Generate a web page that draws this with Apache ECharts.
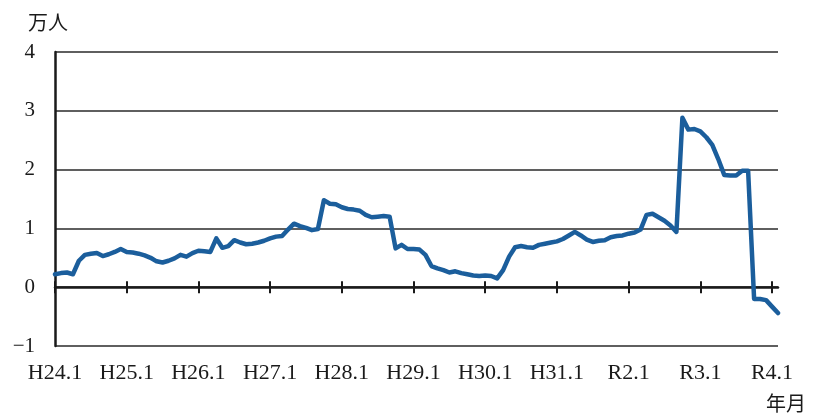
<!DOCTYPE html>
<html>
<head>
<meta charset="utf-8">
<script src="https://cdn.jsdelivr.net/npm/echarts@6/dist/echarts.min.js"></script>
<style>
  html, body { margin: 0; padding: 0; background: #fff; }
  #chart { width: 814px; height: 416px; }
</style>
</head>
<body>
<div id="chart"></div>
<script>
// Monthly values (万人), January H24 through February R4
const values = [
  0.22, 0.24, 0.25, 0.22, 0.45, 0.55, 0.57, 0.58, 0.53, 0.56, 0.60, 0.65,
  0.60, 0.59, 0.57, 0.54, 0.50, 0.44, 0.42, 0.45, 0.49, 0.55, 0.52, 0.58,
  0.62, 0.61, 0.60, 0.83, 0.67, 0.70, 0.80, 0.76, 0.73, 0.74, 0.76, 0.79,
  0.83, 0.86, 0.87, 0.98, 1.08, 1.04, 1.01, 0.97, 0.99, 1.48, 1.42, 1.41,
  1.36, 1.33, 1.32, 1.30, 1.23, 1.19, 1.20, 1.21, 1.20, 0.66, 0.72, 0.65,
  0.65, 0.64, 0.55, 0.36, 0.32, 0.29, 0.25, 0.27, 0.24, 0.22, 0.20, 0.19,
  0.20, 0.19, 0.15, 0.29, 0.52, 0.68, 0.70, 0.68, 0.67, 0.72, 0.74, 0.76,
  0.78, 0.82, 0.88, 0.94, 0.88, 0.81, 0.77, 0.79, 0.80, 0.85, 0.87, 0.88,
  0.91, 0.93, 0.98, 1.23, 1.25, 1.19, 1.13, 1.05, 0.94, 2.88, 2.68, 2.69,
  2.65, 2.55, 2.42, 2.18, 1.91, 1.90, 1.90, 1.98, 1.98, -0.20, -0.20, -0.22,
  -0.33, -0.44
];

// Year labels placed at each January
const yearLabels = ['H24.1', 'H25.1', 'H26.1', 'H27.1', 'H28.1', 'H29.1',
                    'H30.1', 'H31.1', 'R2.1', 'R3.1', 'R4.1'];
const yTicks = [-1, 0, 1, 2, 3, 4];

const seriesData = values.map((v, i) => [i, v]);
const labelPositions = yearLabels.map((_, i) => i * 12);
const lastYearMonth = (yearLabels.length - 1) * 12;

const serif = '"Liberation Serif", "Times New Roman", serif';
const cjk = '"Noto Sans CJK JP", sans-serif';
const ink = '#1a1a1a';

// Plot box
const plotLeft = 55, plotRight = 36, plotTop = 52, plotBottom = 70, chartWidth = 814;
const monthPx = (chartWidth - plotLeft - plotRight) / (values.length - 1);

const chart = echarts.init(document.getElementById('chart'), null, { renderer: 'canvas' });

const baseY = {
  type: 'value',
  min: yTicks[0],
  max: yTicks[yTicks.length - 1],
  interval: 1
};
const hiddenY = (gridIndex) => Object.assign({}, baseY, {
  gridIndex,
  show: true,
  axisLine: { show: false, onZero: false },
  axisTick: { show: false },
  splitLine: { show: false },
  axisLabel: { show: false }
});
const tickStyle = { color: ink, width: 2 };
// Year ticks crossing the zero line (second grid ends at the last January)
const tickAxis = (position, yIndex) => ({
  type: 'value',
  gridIndex: 1,
  min: 0,
  max: lastYearMonth,
  interval: 12,
  position,
  splitLine: { show: false },
  axisLine: { show: false, onZero: true, onZeroAxisIndex: yIndex },
  axisTick: { show: true, inside: true, length: 6, lineStyle: tickStyle },
  axisLabel: { show: false }
});

chart.setOption({
  animation: false,
  backgroundColor: '#fff',
  grid: [
    { left: plotLeft, right: plotRight, top: plotTop, bottom: plotBottom },
    {
      left: plotLeft,
      right: plotRight + monthPx * (values.length - 1 - lastYearMonth),
      top: plotTop,
      bottom: plotBottom
    }
  ],
  xAxis: [
    // year labels along the bottom edge
    {
      type: 'value',
      gridIndex: 0,
      min: 0,
      max: values.length - 1,
      interval: 12,
      position: 'bottom',
      splitLine: { show: false },
      axisLine: { show: false, onZero: false },
      axisTick: { show: false },
      axisLabel: {
        show: true,
        margin: 16,
        customValues: labelPositions,
        formatter: v => yearLabels[Math.round(v / 12)] || '',
        fontFamily: serif,
        fontSize: 22,
        color: ink
      }
    },
    // zero line
    {
      type: 'value',
      gridIndex: 0,
      min: 0,
      max: values.length - 1,
      position: 'top',
      splitLine: { show: false },
      axisLine: { show: true, onZero: true, onZeroAxisIndex: 0, lineStyle: { color: ink, width: 2.5 } },
      axisTick: { show: false },
      axisLabel: { show: false }
    },
    tickAxis('bottom', 2),
    tickAxis('top', 3)
  ],
  yAxis: [
    Object.assign({}, baseY, {
      gridIndex: 0,
      axisLine: { show: true, onZero: false, lineStyle: { color: ink, width: 2.5 } },
      axisTick: { show: false },
      splitLine: { show: true, lineStyle: { color: '#2a2a2a', width: 1.5 } },
      axisLabel: {
        margin: 20,
        fontFamily: serif,
        fontSize: 21,
        color: ink,
        formatter: v => (v < 0 ? '\u2212' + Math.abs(v) : String(v))
      }
    }),
    hiddenY(0),
    hiddenY(1),
    hiddenY(1)
  ],
  series: [{
    type: 'line',
    xAxisIndex: 0,
    yAxisIndex: 0,
    data: seriesData,
    showSymbol: false,
    symbol: 'none',
    lineStyle: { color: '#1b5e9c', width: 4.5, join: 'round', cap: 'round' },
    z: 5
  }],
  graphic: [
    {
      type: 'text', left: 28, top: 12,
      style: { text: '万人', font: '20px ' + cjk, fill: ink }
    },
    {
      type: 'text', left: 766, top: 393,
      style: { text: '年月', font: '20px ' + cjk, fill: ink }
    }
  ]
});
</script>
</body>
</html>
